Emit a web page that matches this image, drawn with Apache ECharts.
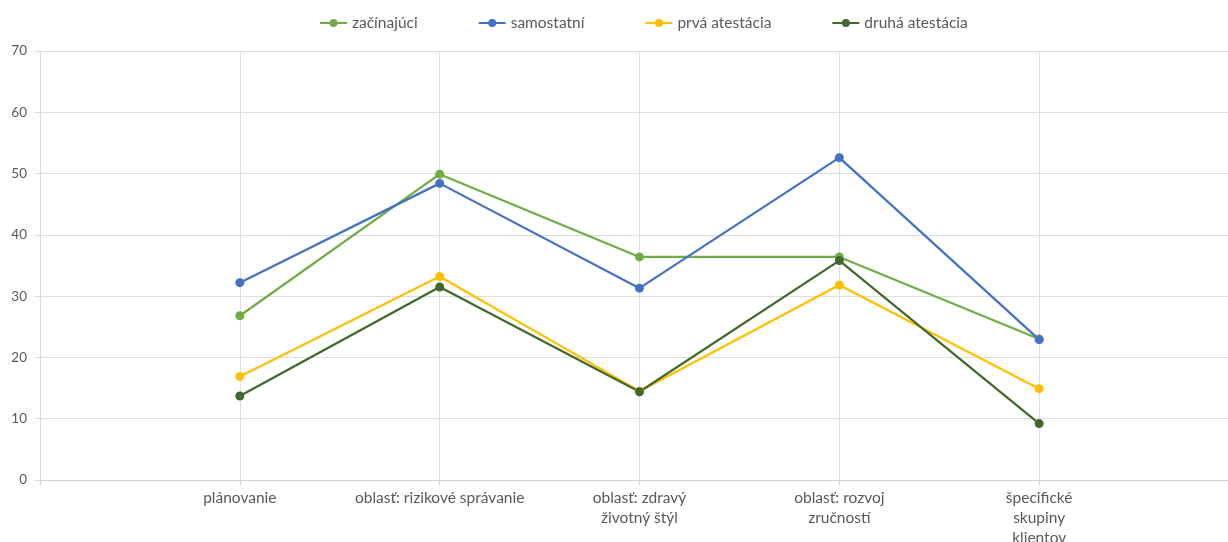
<!DOCTYPE html>
<html>
<head>
<meta charset="utf-8">
<script src="https://cdn.jsdelivr.net/npm/echarts@6/dist/echarts.min.js"></script>
<style>
html,body{margin:0;padding:0;background:#fff;}
#chart{width:1228px;height:542px;}
</style>
</head>
<body>
<div id="chart"></div>
<script>
// Categories (first and last are empty slots, as in the original chart)
var categories = ["", "plánovanie", "oblasť: rizikové správanie", "oblasť: zdravý\nživotný štýl", "oblasť: rozvoj\nzručností", "špecifické\nskupiny\nklientov", ""];
var seriesNames = ["začínajúci", "samostatní", "prvá atestácia", "druhá atestácia"];
var zacinajuci     = [null, 26.8, 49.9, 36.4, 36.4, 23.0, null];
var samostatni     = [null, 32.2, 48.4, 31.3, 52.6, 22.9, null];
var prvaAtestacia  = [null, 16.9, 33.2, 14.5, 31.8, 14.9, null];
var druhaAtestacia = [null, 13.7, 31.5, 14.4, 35.8, 9.2, null];
var yTicks = [0, 10, 20, 30, 40, 50, 60, 70];

var colors = ["#70AD47", "#4472C4", "#FFC000", "#43682B"];
var dataSets = [zacinajuci, samostatni, prvaAtestacia, druhaAtestacia];
var font = "Lato, 'Open Sans', sans-serif";

var chart = echarts.init(document.getElementById('chart'), null, {renderer: 'canvas'});
chart.setOption({
  animation: false,
  color: colors,
  textStyle: {fontFamily: font},
  legend: {
    top: 10,
    left: 314,
    itemWidth: 27,
    itemHeight: 10,
    itemGap: 60,
    textStyle: {color: '#595959', fontSize: 15.5, fontFamily: font},
    data: seriesNames
  },
  grid: {left: 40, top: 51, width: 1199, height: 429, containLabel: false, outerBoundsMode: 'none'},
  xAxis: {
    type: 'category',
    boundaryGap: false,
    data: categories,
    axisLine: {show: true, lineStyle: {color: '#d0d0d0', width: 1}},
    axisTick: {show: true, length: 5, lineStyle: {color: '#d0d0d0'}},
    splitLine: {show: true, lineStyle: {color: '#dedede', width: 1}},
    axisLabel: {
      interval: 0,
      margin: 8,
      color: '#595959',
      fontSize: 15.5,
      lineHeight: 20,
      fontFamily: font
    }
  },
  yAxis: {
    type: 'value',
    min: yTicks[0],
    max: yTicks[yTicks.length - 1],
    interval: 10,
    axisLine: {show: true, lineStyle: {color: '#d9d9d9'}},
    axisTick: {show: true, length: 5, lineStyle: {color: '#d9d9d9'}},
    splitLine: {show: true, lineStyle: {color: '#dedede', width: 1}},
    axisLabel: {color: '#595959', fontSize: 13.5, margin: 13, fontFamily: font}
  },
  series: seriesNames.map(function (name, i) {
    return {
      name: name,
      type: 'line',
      data: dataSets[i],
      symbol: 'circle',
      symbolSize: 9,
      lineStyle: {width: 2.25, color: colors[i]},
      itemStyle: {color: colors[i]}
    };
  })
});
</script>
</body>
</html>
